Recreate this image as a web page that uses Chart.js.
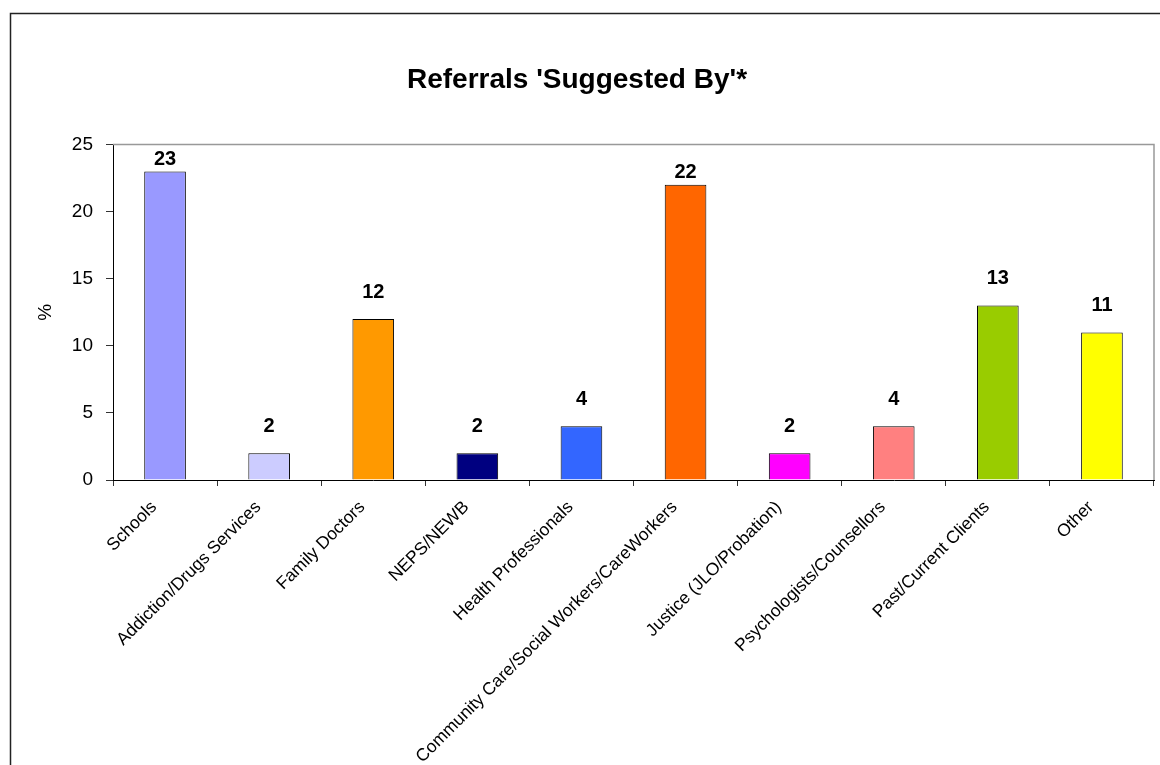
<!DOCTYPE html>
<html>
<head>
<meta charset="utf-8">
<title>Referrals 'Suggested By'</title>
<script src="https://cdn.jsdelivr.net/npm/chart.js@4"></script>
<style>
  html, body { margin: 0; padding: 0; background: #fff; }
  canvas { display: block; }
</style>
</head>
<body>
<canvas id="referralsChart" width="1160" height="765"></canvas>
<script>
// data
const categories = [
  'Schools', 'Addiction/Drugs Services', 'Family Doctors', 'NEPS/NEWB',
  'Health Professionals', 'Community Care/Social Workers/CareWorkers',
  'Justice (JLO/Probation)', 'Psychologists/Counsellors',
  'Past/Current Clients', 'Other'
];
const percentages = [23, 2, 12, 2, 4, 22, 2, 4, 13, 11];
const barColours = [
  '#9999FF', '#CCCCFF', '#FF9900', '#000080', '#3366FF',
  '#FF6600', '#FF00FF', '#FF8080', '#99CC00', '#FFFF00'
];
const yTicks = [0, 5, 10, 15, 20, 25];

const FONT = "'Liberation Sans', Arial, sans-serif";

// outer chart border + grey plot frame (top / right)
const framePlugin = {
  id: 'frame',
  beforeDraw(chart) {
    const ctx = chart.ctx;
    ctx.save();
    ctx.strokeStyle = '#222';
    ctx.lineWidth = 1.5;
    ctx.strokeRect(10.5, 13.5, 2000, 2000);
    ctx.restore();
  },
  beforeDatasetsDraw(chart) {
    const { ctx, chartArea: a } = chart;
    ctx.save();
    ctx.strokeStyle = '#999';
    ctx.lineWidth = 1.5;
    ctx.beginPath();
    ctx.moveTo(a.left, a.top);
    ctx.lineTo(a.right, a.top);
    ctx.lineTo(a.right, a.bottom);
    ctx.stroke();
    ctx.restore();
  }
};

// bold value above each bar; the two tallest sit closer so they stay in the frame
const valueLabels = {
  id: 'valueLabels',
  afterDatasetsDraw(chart) {
    const ctx = chart.ctx;
    const meta = chart.getDatasetMeta(0);
    ctx.save();
    ctx.font = 'bold 20px ' + FONT;
    ctx.fillStyle = '#000';
    ctx.textAlign = 'center';
    ctx.textBaseline = 'middle';
    meta.data.forEach((bar, i) => {
      const gap = percentages[i] >= 20 ? 12 : 27;
      ctx.fillText(String(percentages[i]), bar.x, bar.y - gap);
    });
    ctx.restore();
  }
};

new Chart(document.getElementById('referralsChart'), {
  type: 'bar',
  data: {
    labels: categories,
    datasets: [{
      data: percentages,
      backgroundColor: barColours,
      borderColor: '#000',
      borderWidth: 1,
      barPercentage: 0.4,
      categoryPercentage: 1
    }]
  },
  options: {
    responsive: false,
    animation: false,
    layout: { padding: { top: 0, right: 6, left: 0, bottom: 0 } },
    plugins: {
      legend: { display: false },
      tooltip: { enabled: false },
      title: {
        display: true,
        text: "Referrals 'Suggested By'*",
        color: '#000',
        font: { family: FONT, size: 28, weight: 'bold' },
        padding: { top: 63, bottom: 48 }
      }
    },
    scales: {
      x: {
        grid: { drawOnChartArea: false, tickLength: 6, tickColor: '#333', offset: true },
        border: { color: '#000', width: 1 },
        ticks: {
          autoSkip: false, minRotation: 45, maxRotation: 45,
          color: '#000', padding: 11, labelOffset: -11,
          font: { family: FONT, size: 17.5 }
        },
        afterFit(scale) { scale.height = 285; }
      },
      y: {
        min: 0, max: 25,
        afterBuildTicks(scale) { scale.ticks = yTicks.map(v => ({ value: v })); },
        grid: { drawOnChartArea: false, tickLength: 7, tickColor: '#333' },
        border: { color: '#000', width: 1 },
        ticks: { color: '#000', padding: 13, font: { family: FONT, size: 19 } },
        title: {
          display: true, text: '%', color: '#000',
          font: { family: FONT, size: 19 },
          padding: { top: 34, bottom: 0 }
        },
        afterFit(scale) { scale.width = 113; }
      }
    }
  },
  plugins: [framePlugin, valueLabels]
});
</script>
</body>
</html>
